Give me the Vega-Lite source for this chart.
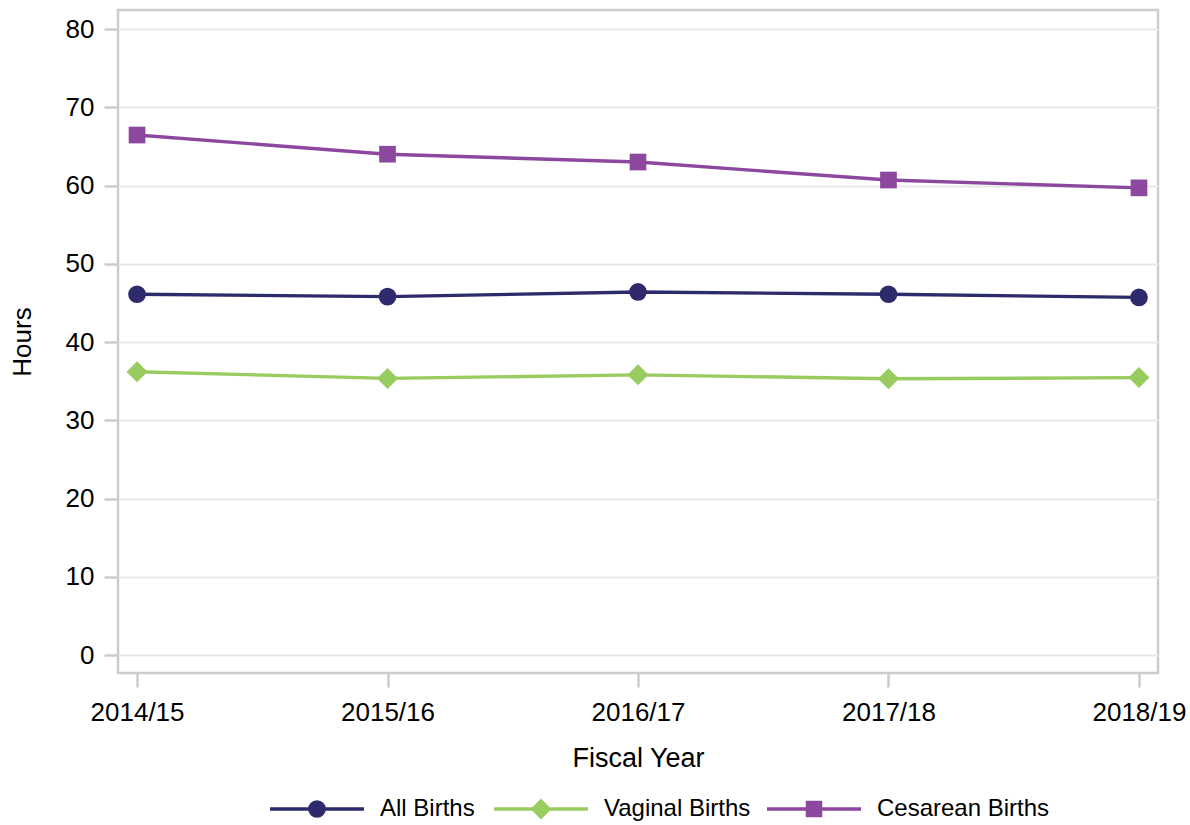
{
  "$schema": "https://vega.github.io/schema/vega-lite/v6.json",
  "autosize": {"type": "none"},
  "padding": {"left": 118, "top": 10, "right": 32, "bottom": 152},
  "width": 1040,
  "height": 663,
  "background": "white",
  "config": {
    "font": "Liberation Sans",
    "view": {"stroke": "#cccccc", "strokeWidth": 2.5},
    "axis": {
      "labelFont": "Liberation Sans",
      "titleFont": "Liberation Sans",
      "labelFontSize": 26,
      "titleFontSize": 26,
      "titleFontWeight": "normal",
      "labelColor": "#000000",
      "titleColor": "#000000",
      "domain": false,
      "tickColor": "#cccccc",
      "tickSize": 14,
      "tickWidth": 2.5,
      "gridColor": "#e8e8e8",
      "gridWidth": 2
    },
    "legend": {
      "labelFont": "Liberation Sans",
      "labelFontSize": 24,
      "labelColor": "#000000",
      "labelLimit": 400,
      "title": null,
      "orient": "none",
      "legendY": 750,
      "direction": "horizontal",
      "symbolSize": 8836,
      "symbolStrokeWidth": 3.4,
      "symbolOpacity": 1,
      "labelOffset": 14
    }
  },
  "data": {
    "values": [
      {"year": "2014/15", "series": "All Births", "hours": 46.1},
      {"year": "2015/16", "series": "All Births", "hours": 45.8},
      {"year": "2016/17", "series": "All Births", "hours": 46.4},
      {"year": "2017/18", "series": "All Births", "hours": 46.1},
      {"year": "2018/19", "series": "All Births", "hours": 45.7},
      {"year": "2014/15", "series": "Vaginal Births", "hours": 36.2},
      {"year": "2015/16", "series": "Vaginal Births", "hours": 35.35},
      {"year": "2016/17", "series": "Vaginal Births", "hours": 35.8},
      {"year": "2017/18", "series": "Vaginal Births", "hours": 35.3},
      {"year": "2018/19", "series": "Vaginal Births", "hours": 35.45},
      {"year": "2014/15", "series": "Cesarean Births", "hours": 66.45},
      {"year": "2015/16", "series": "Cesarean Births", "hours": 64.0},
      {"year": "2016/17", "series": "Cesarean Births", "hours": 63.0},
      {"year": "2017/18", "series": "Cesarean Births", "hours": 60.7},
      {"year": "2018/19", "series": "Cesarean Births", "hours": 59.7}
    ]
  },
  "encoding": {
    "x": {
      "field": "year", "type": "ordinal",
      "scale": {"type": "point", "padding": 0.076},
      "axis": {"title": "Fiscal Year", "titleFontSize": 27, "labelAngle": 0, "labelPadding": 12, "titlePadding": 20, "grid": false}
    },
    "y": {
      "field": "hours", "type": "quantitative",
      "scale": {"domain": [-2.3, 82.43], "nice": false, "zero": false},
      "axis": {"title": "Hours", "values": [0, 10, 20, 30, 40, 50, 60, 70, 80], "labelPadding": 10, "titlePadding": 30, "grid": true}
    }
  },
  "layer": [
    {
      "mark": {"type": "line", "strokeWidth": 3.4},
      "encoding": {
        "color": {
          "field": "series", "type": "nominal",
          "scale": {"domain": ["All Births", "Vaginal Births", "Cesarean Births"], "range": ["#2d2b6b", "#99cc5f", "#8c479f"]},
          "legend": null
        }
      }
    },
    {
      "mark": {"type": "point", "filled": true, "opacity": 1},
      "encoding": {
        "color": {
          "field": "series", "type": "nominal",
          "scale": {"domain": ["All Births", "Vaginal Births", "Cesarean Births"], "range": ["#2d2b6b", "#99cc5f", "#8c479f"]},
          "legend": null
        },
        "shape": {
          "field": "series", "type": "nominal",
          "scale": {"domain": ["All Births", "Vaginal Births", "Cesarean Births"], "range": ["circle", "diamond", "square"]},
          "legend": null
        },
        "size": {
          "field": "series", "type": "nominal",
          "scale": {"type": "ordinal", "domain": ["All Births", "Vaginal Births", "Cesarean Births"], "range": [313, 441, 278]},
          "legend": null
        }
      }
    },
    {
      "transform": [{"filter": "datum.series === 'All Births'"}],
      "mark": {"type": "point", "filled": false, "opacity": 0, "color": "#2d2b6b", "strokeWidth": 3.4},
      "encoding": {
        "shape": {
          "field": "series", "type": "nominal",
          "scale": {"domain": ["All Births"], "range": ["M-1,0L1,0M0.152,0A0.152,0.152,0,1,1,-0.152,0A0.152,0.152,0,1,1,0.152,0ZM0.117,0A0.117,0.117,0,1,1,-0.117,0A0.117,0.117,0,1,1,0.117,0ZM0.082,0A0.082,0.082,0,1,1,-0.082,0A0.082,0.082,0,1,1,0.082,0ZM0.047,0A0.047,0.047,0,1,1,-0.047,0A0.047,0.047,0,1,1,0.047,0ZM0.015,0A0.015,0.015,0,1,1,-0.015,0A0.015,0.015,0,1,1,0.015,0Z"]},
          "legend": {"legendX": 150}
        }
      }
    },
    {
      "transform": [{"filter": "datum.series === 'Vaginal Births'"}],
      "mark": {"type": "point", "filled": false, "opacity": 0, "color": "#99cc5f", "strokeWidth": 3.4},
      "encoding": {
        "shape": {
          "field": "series", "type": "nominal",
          "scale": {"domain": ["Vaginal Births"], "range": ["M-1,0L1,0M0,-0.17L0.17,0L0,0.17L-0.17,0ZM0,-0.135L0.135,0L0,0.135L-0.135,0ZM0,-0.1L0.1,0L0,0.1L-0.1,0ZM0,-0.065L0.065,0L0,0.065L-0.065,0ZM0,-0.03L0.03,0L0,0.03L-0.03,0Z"]},
          "legend": {"legendX": 374}
        }
      }
    },
    {
      "transform": [{"filter": "datum.series === 'Cesarean Births'"}],
      "mark": {"type": "point", "filled": false, "opacity": 0, "color": "#8c479f", "strokeWidth": 3.4},
      "encoding": {
        "shape": {
          "field": "series", "type": "nominal",
          "scale": {"domain": ["Cesarean Births"], "range": ["M-1,0L1,0M-0.14,-0.14L0.14,-0.14L0.14,0.14L-0.14,0.14ZM-0.105,-0.105L0.105,-0.105L0.105,0.105L-0.105,0.105ZM-0.07,-0.07L0.07,-0.07L0.07,0.07L-0.07,0.07ZM-0.035,-0.035L0.035,-0.035L0.035,0.035L-0.035,0.035Z"]},
          "legend": {"legendX": 647}
        }
      }
    }
  ],
  "resolve": {"scale": {"color": "independent", "shape": "independent", "size": "independent"}}
}
